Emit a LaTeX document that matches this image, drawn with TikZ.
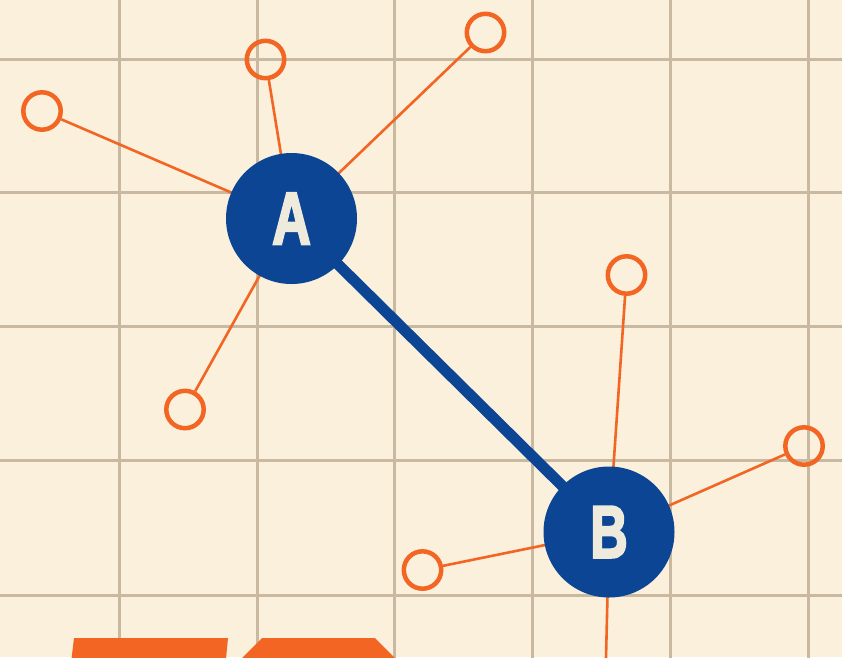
\documentclass[tikz,border=0pt]{standalone}
\usepackage{fontspec}
\newfontfamily\hubfont[BoldFeatures={FakeBold=3.5}]{Liberation Sans}
\usetikzlibrary{backgrounds}
\definecolor{paper}{HTML}{FBF0DC}
\definecolor{gridc}{HTML}{C8B9A0}
\definecolor{hubblue}{HTML}{0B4594}
\definecolor{accent}{HTML}{F26522}
\definecolor{lettercol}{HTML}{EEEBDD}
\tikzset{
  gridline/.style={draw=gridc, line width=3},
  spoke/.style={draw=accent, line width=2.6},
  link/.style={draw=hubblue, line width=11},
  hub/.style={circle, fill=hubblue, minimum size=131, inner sep=0pt, text=lettercol,
    font=\hubfont\bfseries\fontsize{74}{74}\selectfont},
  ring/.style={circle, draw=accent, line width=4.5, minimum size=37.4, inner sep=0pt},
  slab/.style={fill=accent}
}
\begin{document}
\begin{tikzpicture}[x=1pt, y=-1pt]
\useasboundingbox (0,0) rectangle (842,657);
\clip (0,0) rectangle (842,657);
% nodes
\node[hub] (A) at (291.5,218.5) {\scalebox{0.72}[1]{A}};
\node[hub] (B) at (609,532) {\scalebox{0.7}[1]{B}};
\node[ring] (a1) at (42,111) {};
\node[ring] (a2) at (265.5,59.5) {};
\node[ring] (a3) at (485.5,32.5) {};
\node[ring] (a4) at (185,409.5) {};
\node[ring] (b1) at (626.5,275) {};
\node[ring] (b2) at (804,446) {};
\node[ring] (b3) at (422.5,570) {};
\coordinate (b4) at (605,700);
\begin{scope}[on background layer]
\fill[paper] (0,0) rectangle (842,657);
% grid
\foreach \gx in {119.5,257,394.5,532,670,808} {\draw[gridline] (\gx,-5) -- (\gx,662);}
\foreach \gy in {59,192.5,326,460,595} {\draw[gridline] (-5,\gy) -- (847,\gy);}
% bottom shapes
\fill[slab] (74,638) -- (228,638) -- (224,680) -- (69,680) -- cycle;
\fill[slab] (262,638) -- (375,638) -- (417,680) -- (220,680) -- cycle;
% connectors
\foreach \s in {a1,a2,a3,a4} {\draw[spoke] (A.center) -- (\s);}
\foreach \s in {b1,b2,b3} {\draw[spoke] (B.center) -- (\s);}
\draw[spoke] (B.center) -- (b4);
\draw[link] (A.center) -- (B.center);
\end{scope}
\end{tikzpicture}
\end{document}
